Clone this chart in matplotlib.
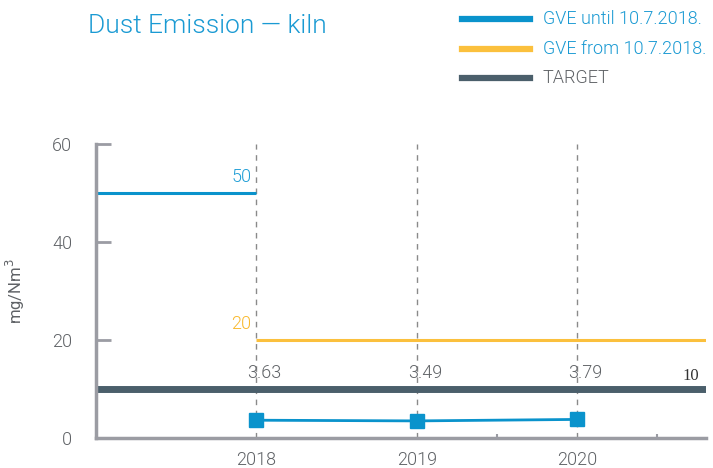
import numpy as np
import matplotlib.pyplot as plt
from matplotlib.lines import Line2D

# Data
years = [2018, 2019, 2020]
dust = [3.63, 3.49, 3.79]
gve_until = 50
gve_from = 20
target = 10
legend_labels = ['GVE until 10.7.2018.', 'GVE from 10.7.2018.', 'TARGET']

blue = '#0a93cc'
yellow = '#fbc03d'
dark = '#4b5f6b'
grey = '#9b9ca3'
text_grey = '#5f6266'

plt.rcParams['font.family'] = ['Roboto', 'DejaVu Sans']
plt.rcParams['font.weight'] = 300

fig = plt.figure(figsize=(7.13, 4.68), dpi=100)
ax = fig.add_axes([0.1346, 0.0641, 0.855, 0.6282])

x0, x1 = 2017.0, 2020.8

# limit lines
ax.plot([x0, 2018], [gve_until, gve_until], color=blue, lw=2.2, solid_capstyle='butt')
ax.plot([2018, x1], [gve_from, gve_from], color=yellow, lw=2.2, solid_capstyle='butt')
ax.plot([x0, x1], [target, target], color=dark, lw=5, solid_capstyle='butt')

# dashed year guides
for yr in years:
    ax.plot([yr, yr], [0, 60], color='#8a8a8a', lw=1, ls=(0, (4, 4)), zorder=1)

# measured values
ax.plot(years, dust, color=blue, lw=2, marker='s', markersize=10.5, zorder=4)

# value labels
ax.text(2017.97, gve_until + 1.5, str(gve_until), color='#1f9ed6', fontsize=13,
        ha='right', va='bottom')
ax.text(2017.97, gve_from + 1.5, str(gve_from), color='#f9b92c', fontsize=13,
        ha='right', va='bottom')
for yr, v in zip(years, dust):
    ax.text(yr + 0.05, target + 1.5, f'{v:.2f}', color=text_grey, fontsize=13,
            ha='center', va='bottom')
ax.text(x1 - 0.09, target + 1.0, str(target), color='#333333', fontsize=12,
        family='Liberation Serif', weight='normal', ha='center', va='bottom')

ax.set_xlim(x0, x1)
ax.set_ylim(0, 60)
ax.set_yticks([0, 20, 40, 60])
ax.set_xticks(years)
ax.set_xticks([2019.5, 2020.5], minor=True)
ax.tick_params(axis='y', direction='in', length=11, width=2, color=grey,
               labelsize=13, labelcolor=text_grey, pad=17)
ax.tick_params(axis='x', length=0, labelsize=13, labelcolor=text_grey, pad=9)
ax.tick_params(axis='x', which='minor', direction='in', length=3, width=1.5, color=grey)
for side in ['top', 'right']:
    ax.spines[side].set_visible(False)
for side in ['left', 'bottom']:
    ax.spines[side].set_color(grey)
    ax.spines[side].set_linewidth(2.5)
ax.set_ylabel('mg/Nm$^3$', color=text_grey, fontsize=12, labelpad=18)

# title and legend
fig.text(88 / 713, 1 - 26 / 468, 'Dust Emission — kiln', color='#1a9ad3',
         fontsize=19, ha='left', va='center')
leg_colors = [blue, yellow, dark]
leg_text_colors = ['#1a9ad3', '#1a9ad3', text_grey]
for i, (lab, c, tc) in enumerate(zip(legend_labels, leg_colors, leg_text_colors)):
    yy = 1 - (19 + 29.5 * i) / 468
    fig.add_artist(Line2D([462 / 713, 530 / 713], [yy, yy], color=c, lw=4.5,
                          transform=fig.transFigure))
    fig.text(543 / 713, yy, lab, color=tc, fontsize=13, ha='left', va='center')

fig.savefig('out.png', dpi=100)
